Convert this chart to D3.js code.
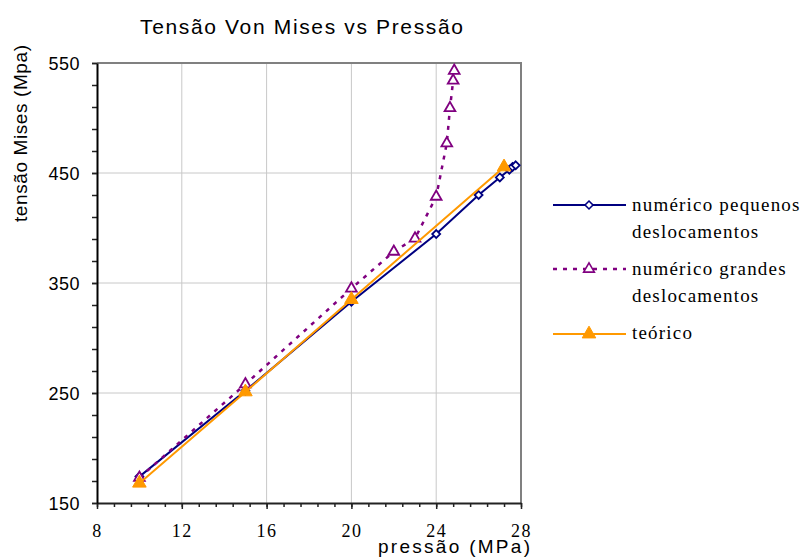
<!DOCTYPE html>
<html>
<head>
<meta charset="utf-8">
<script src="https://cdn.jsdelivr.net/npm/d3@7"></script>
<style>
  html, body { margin: 0; padding: 0; background: #fff; }
  svg { display: block; }
</style>
</head>
<body>
<svg id="chart" width="804" height="558"></svg>
<script>
// Von Mises stress vs pressure — three series
const pressaoPequenos = [10, 15, 20, 24, 26, 27, 27.45, 27.6, 27.75];
const tensaoPequenos  = [174, 252, 333, 394.5, 430, 446, 453, 455.5, 457];

const pressaoGrandes = [10, 15, 20, 22, 23, 24, 24.5, 24.65, 24.8, 24.85];
const tensaoGrandes  = [173, 258, 345, 378.5, 390.5, 428.5, 477, 509, 534, 543];

const pressaoTeorico = [10, 15, 20, 27.2];
const tensaoTeorico  = [168, 251, 335, 455.5];

const xTicks = [8, 12, 16, 20, 24, 28];
const yTicks = [150, 250, 350, 450, 550];

const seriesNames = [
  ["numérico pequenos", "deslocamentos"],
  ["numérico grandes", "deslocamentos"],
  ["teórico"]
];

const svg = d3.select("#chart");
const x = d3.scaleLinear().domain([8, 28]).range([97, 521]);
const y = d3.scaleLinear().domain([150, 550]).range([503, 63]);

const sans = "Liberation Sans, Arial, sans-serif";
const serif = "Liberation Serif, Times New Roman, serif";

// title
svg.append("text")
  .attr("x", 140).attr("y", 34)
  .style("font-family", sans).style("font-size", "21px")
  .attr("textLength", 323).attr("lengthAdjust", "spacing")
  .attr("fill", "#000")
  .text("Tensão Von Mises vs Pressão");

// gridlines
const grid = svg.append("g");
grid.selectAll("line.vx").data(xTicks.slice(1, -1)).join("line")
  .attr("x1", d => x(d)).attr("x2", d => x(d))
  .attr("y1", y(550)).attr("y2", y(150))
  .attr("stroke", "#c8c8c8").attr("stroke-width", 1);
grid.selectAll("line.hy").data(yTicks.slice(1, -1)).join("line")
  .attr("y1", d => y(d)).attr("y2", d => y(d))
  .attr("x1", x(8)).attr("x2", x(28))
  .attr("stroke", "#c8c8c8").attr("stroke-width", 1);

// plot frame (top and right)
svg.append("path")
  .attr("d", `M${x(8)},${y(550)}H${x(28)}V${y(150)}`)
  .attr("fill", "none").attr("stroke", "#808080").attr("stroke-width", 2);

// minor ticks
const xMinor = d3.range(8, 28.01, 0.8);
const yMinor = d3.range(150, 550.01, 20);
svg.append("g").attr("transform", `translate(0,${y(150)})`)
  .call(d3.axisBottom(x).tickValues(xMinor).tickSize(4).tickFormat(""))
  .call(g => g.select(".domain").remove())
  .selectAll("line").attr("stroke", "#222").attr("stroke-width", 1.5);
svg.append("g").attr("transform", `translate(${x(8)},0)`)
  .call(d3.axisLeft(y).tickValues(yMinor).tickSize(5).tickFormat(""))
  .call(g => g.select(".domain").remove())
  .selectAll("line").attr("stroke", "#222").attr("stroke-width", 1.5);

// x axis
const gx = svg.append("g").attr("transform", `translate(0,${y(150)})`)
  .call(d3.axisBottom(x).tickValues(xTicks).tickSize(6).tickSizeOuter(0).tickFormat(d3.format("d")));
gx.attr("font-family", null).attr("font-size", null);
gx.select(".domain").attr("stroke", "#222").attr("stroke-width", 2);
gx.selectAll(".tick line").attr("stroke", "#222").attr("stroke-width", 1.5);
gx.selectAll(".tick text")
  .style("font-family", serif).style("font-size", "18px").attr("fill", "#000")
  .style("letter-spacing", "1.5px")
  .attr("y", 34).attr("dy", 0);

// y axis
const gy = svg.append("g").attr("transform", `translate(${x(8)},0)`)
  .call(d3.axisLeft(y).tickValues(yTicks).tickSize(5).tickSizeOuter(0).tickFormat(d3.format("d")));
gy.attr("font-family", null).attr("font-size", null);
gy.select(".domain").attr("stroke", "#000").attr("stroke-width", 2);
gy.selectAll(".tick line").attr("stroke", "#222").attr("stroke-width", 1.5);
gy.selectAll(".tick text")
  .style("font-family", sans).style("font-size", "18px").attr("fill", "#000")
  .attr("x", -17).attr("dy", "0.35em").style("letter-spacing", "0.5px");

// axis titles
svg.append("text")
  .attr("transform", "translate(27,222) rotate(-90)")
  .style("font-family", sans).style("font-size", "19px").attr("fill", "#000")
  .attr("textLength", 177).attr("lengthAdjust", "spacing")
  .text("tensão Mises (Mpa)");
svg.append("text")
  .attr("x", 378).attr("y", 553)
  .style("font-family", sans).style("font-size", "19px").attr("fill", "#000")
  .attr("textLength", 152).attr("lengthAdjust", "spacing")
  .text("pressão (MPa)");

// series
const line = d3.line().x(d => x(d[0])).y(d => y(d[1]));
const pequenos = d3.zip(pressaoPequenos, tensaoPequenos);
const grandes = d3.zip(pressaoGrandes, tensaoGrandes);
const teorico = d3.zip(pressaoTeorico, tensaoTeorico);

const navy = "#000080", purple = "#800080", orange = "#FF9900";

const diamond = d3.symbol(d3.symbolDiamond2, 40)();
const triangle = d3.symbol(d3.symbolTriangle, 50)();
const triangleBig = d3.symbol(d3.symbolTriangle, 80)();
const purpleDash = "4,6";

function drawSeries(data, color, dash, width, marker, fill, sw) {
  const g = svg.append("g");
  g.append("path").attr("d", line(data))
    .attr("fill", "none").attr("stroke", color).attr("stroke-width", width)
    .attr("stroke-dasharray", dash);
  g.selectAll("path.m").data(data).join("path")
    .attr("class", "m")
    .attr("d", marker)
    .attr("transform", d => `translate(${x(d[0])},${y(d[1])})`)
    .attr("fill", fill).attr("stroke", color).attr("stroke-width", sw);
}

drawSeries(pequenos, navy, null, 2, diamond, "#fff", 1.8);
drawSeries(grandes, purple, purpleDash, 2.5, triangle, "#fff", 1.8);
drawSeries(teorico, orange, null, 2, triangleBig, orange, 1);

// legend
const legend = [
  { color: navy, dash: null, width: 2, marker: diamond, fill: "#fff", ly: 205, ty: 211 },
  { color: purple, dash: purpleDash, width: 2.5, marker: triangle, fill: "#fff", ly: 269, ty: 275 },
  { color: orange, dash: null, width: 2, marker: triangleBig, fill: orange, ly: 334, ty: 339 }
];
legend.forEach((s, i) => {
  const g = svg.append("g");
  g.append("line").attr("x1", 553).attr("x2", 626).attr("y1", s.ly).attr("y2", s.ly)
    .attr("stroke", s.color).attr("stroke-width", s.width).attr("stroke-dasharray", s.dash);
  g.append("path").attr("d", s.marker).attr("transform", `translate(589,${s.ly})`)
    .attr("fill", s.fill).attr("stroke", s.color).attr("stroke-width", i === 2 ? 1 : 1.6);
  seriesNames[i].forEach((t, j) => {
    g.append("text")
      .attr("x", 632).attr("y", s.ty + j * 27)
      .style("font-family", serif).style("font-size", "19px").attr("fill", "#000")
      .style("letter-spacing", "1.2px")
      .text(t);
  });
});
</script>
</body>
</html>
